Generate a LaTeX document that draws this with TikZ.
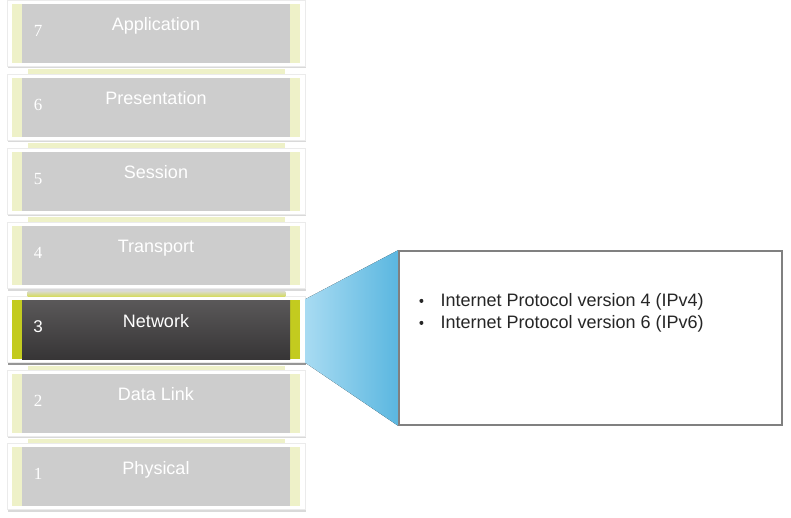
\documentclass[tikz,border=0pt]{standalone}
\usepackage{fontspec}
\setmainfont{Liberation Sans}
\newfontfamily\numfont{Liberation Serif}
\usetikzlibrary{shadows}

\definecolor{layergray}{HTML}{CDCDCD}
\definecolor{layerbar}{HTML}{EEF1C8}
\definecolor{netdark}{HTML}{3D3B3C}
\definecolor{netbar}{HTML}{C3CB1F}
\definecolor{fanlight}{HTML}{A8DBF2}
\definecolor{fandark}{HTML}{5BB7E0}
\definecolor{itemtext}{HTML}{262626}

\tikzset{
  card/.style={fill=white, draw=black!8, line width=0.6pt, minimum width=298pt, minimum height=66pt, inner sep=0pt,
    drop shadow={shadow xshift=0.8pt, shadow yshift=-2pt, opacity=0.3}},
  netcard/.style={card, drop shadow={shadow xshift=0.8pt, shadow yshift=-2.5pt, opacity=0.75}},
  bar/.style={fill=layerbar, minimum width=288pt, minimum height=59pt, inner sep=0pt},
  face/.style={fill=layergray, minimum width=268pt, minimum height=59pt, inner sep=0pt},
  strip/.style={fill=layerbar},
  lbl/.style={text=white, font=\fontsize{18}{18}\selectfont, anchor=base},
  num/.style={text=white, font=\numfont\fontsize{17}{17}\selectfont, anchor=base},
  item/.style={text=itemtext, font=\fontsize{18}{18}\selectfont, anchor=base west, inner sep=0pt},
  dot/.style={circle, fill=itemtext, inner sep=0pt, minimum size=4pt},
}

\begin{document}
\begin{tikzpicture}[x=1pt,y=-1pt]
\useasboundingbox (0,0) rectangle (791,518);

% the seven layers
\node[card] (app) at (156,33.5) {};
\node[bar] at (app) {};
\node[face] at (app) {};
\node[lbl] at ([yshift=2.5pt]app.center) {Application};
\node[num] at ([xshift=-118pt,yshift=-3pt]app.center) {7};

\node[card] (pres) at (156,107.5) {};
\node[bar] at (pres) {};
\node[face] at (pres) {};
\node[lbl] at ([yshift=2.5pt]pres.center) {Presentation};
\node[num] at ([xshift=-118pt,yshift=-3pt]pres.center) {6};

\node[card] (sess) at (156,181.5) {};
\node[bar] at (sess) {};
\node[face] at (sess) {};
\node[lbl] at ([yshift=2.5pt]sess.center) {Session};
\node[num] at ([xshift=-118pt,yshift=-3pt]sess.center) {5};

\node[card] (trans) at (156,255.5) {};
\node[bar] at (trans) {};
\node[face] at (trans) {};
\node[lbl] at ([yshift=2.5pt]trans.center) {Transport};
\node[num] at ([xshift=-118pt,yshift=-3pt]trans.center) {4};

\node[netcard] (net) at (156,329.5) {};
\node[bar, fill=netbar] at (net) {};
\node[face, top color=netdark!85!white, bottom color=netdark!90!black] at (net) {};
\node[lbl] at ([yshift=2.5pt]net.center) {Network};
\node[num, font=\fontsize{17}{17}\selectfont] at ([xshift=-118pt,yshift=-3pt]net.center) {3};

\node[card] (link) at (156,403) {};
\node[bar] at (link) {};
\node[face] at (link) {};
\node[lbl] at ([yshift=2.5pt]link.center) {Data Link};
\node[num] at ([xshift=-118pt,yshift=-3pt]link.center) {2};

\node[card] (phys) at (156,476.5) {};
\node[bar] at (phys) {};
\node[face] at (phys) {};
\node[lbl] at ([yshift=2.5pt]phys.center) {Physical};
\node[num] at ([xshift=-118pt,yshift=-3pt]phys.center) {1};

% strips between the layers
\fill[strip] ([xshift=21pt,yshift=-2.5pt]app.south west) rectangle ([xshift=-20pt]pres.north east);
\fill[strip] ([xshift=21pt,yshift=-2.5pt]pres.south west) rectangle ([xshift=-20pt]sess.north east);
\fill[strip] ([xshift=21pt,yshift=-2.5pt]sess.south west) rectangle ([xshift=-20pt]trans.north east);
\fill[top color=layergray!60!layerbar, bottom color=netbar!70!white] ([xshift=21pt,yshift=-2.5pt]trans.south west) rectangle ([xshift=-20pt]net.north east);
\fill[strip] ([xshift=21pt,yshift=-3.5pt]net.south west) rectangle ([xshift=-20pt]link.north east);
\fill[strip] ([xshift=21pt,yshift=-2.5pt]link.south west) rectangle ([xshift=-20pt]phys.north east);

% detail box and fan
\node[draw=black!50, line width=1.2pt, fill=white, minimum width=383pt, minimum height=174pt] (detail) at (590.5,338) {};
\fill[left color=fanlight, right color=fandark] ([yshift=-3pt]net.north east) -- ([xshift=-0.6pt]detail.north west) -- ([xshift=-0.6pt]detail.south west) -- (net.south east) -- cycle;

\node[item] (ip4) at ([xshift=42pt,yshift=-56pt]detail.north west) {Internet Protocol version 4 (IPv4)};
\node[item] (ip6) at ([yshift=-22pt]ip4.base west) {Internet Protocol version 6 (IPv6)};
\node[dot] at ([xshift=-19pt,yshift=5.5pt]ip4.base west) {};
\node[dot] at ([xshift=-19pt,yshift=5.5pt]ip6.base west) {};

\end{tikzpicture}
\end{document}
